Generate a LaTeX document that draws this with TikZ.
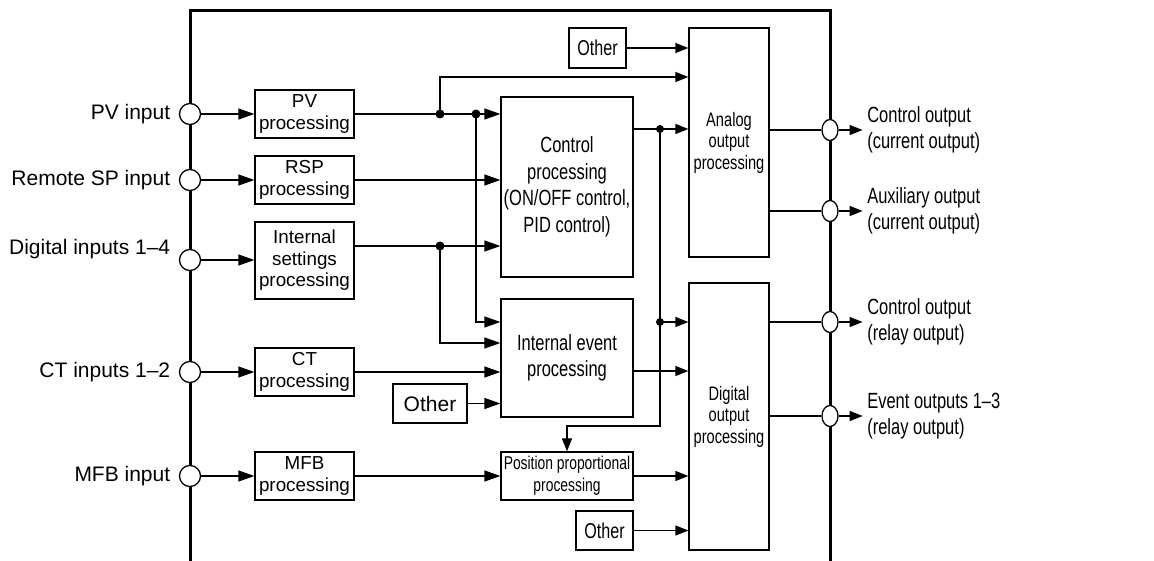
\documentclass[tikz,border=0pt]{standalone}
\usepackage{fontspec}
\setmainfont{Liberation Sans}
\newfontfamily\narrowfont{Liberation Sans}[FakeStretch=0.75,Ligatures=TeX]
\usetikzlibrary{arrows.meta,positioning,shapes.geometric}

\begin{document}
\begin{tikzpicture}[x=1pt,y=-1pt,line width=1.3pt,
   >={Triangle[length=16pt,width=11pt]},
   frame/.style={line width=3pt},
   port/.style={circle,draw,fill=white,minimum size=21pt,inner sep=0},
   oport/.style={ellipse,draw,fill=white,minimum width=16pt,minimum height=21pt,inner sep=0},
   blk/.style={draw,inner sep=0,align=center,font=\fontsize{18.8}{21.5}\selectfont},
   nblk/.style={blk,font=\narrowfont\fontsize{19.5}{21.5}\selectfont},
   bigblk/.style={blk,font=\narrowfont\fontsize{22}{26.5}\selectfont},
   lbl/.style={inner sep=0,font=\fontsize{21}{26}\selectfont},
   olbl/.style={inner sep=0,align=left,font=\narrowfont\fontsize{22}{26}\selectfont},
   dot/.style={circle,fill,inner sep=0,minimum size=9pt},
   sar/.style={-{Triangle[length=13pt,width=10pt]}}]
   \useasboundingbox (0,0) rectangle (1154,561);
   \draw[frame] (190,561) -- (190,11) -- (830,11) -- (830,561);

   % inputs
   \node[port] (inpv) at (190,114) {};
   \node[port] (inrsp) at (190,180) {};
   \node[port] (indi) at (190,260) {};
   \node[port] (inct) at (190,372) {};
   \node[port] (inmfb) at (190,476) {};
   \node[lbl,left=8pt of inpv] {PV input};
   \node[lbl,left=8pt of inrsp] {Remote SP input};
   \node[lbl,left=8pt of indi,yshift=11pt] {Digital inputs 1--4};
   \node[lbl,left=8pt of inct] {CT inputs 1--2};
   \node[lbl,left=8pt of inmfb] {MFB input};

   % input processing
   \node[blk,minimum width=99pt,minimum height=48pt] (pvp) at (304.5,114) {PV\\processing};
   \node[blk,minimum width=99pt,minimum height=48pt] (rspp) at (304.5,180) {RSP\\processing};
   \node[blk,minimum width=99pt,minimum height=77pt] (isp) at (304.5,260.5) {Internal\\settings\\processing};
   \node[blk,minimum width=99pt,minimum height=48pt] (ctp) at (304.5,372) {CT\\processing};
   \node[blk,minimum width=99pt,minimum height=48pt] (mfbp) at (304.5,476) {MFB\\processing};

   % middle column
   \node[bigblk,minimum width=132pt,minimum height=180pt] (ctrl) at (567,187) {Control\\processing\\(ON/OFF control,\\PID control)};
   \node[bigblk,minimum width=132pt,minimum height=118pt] (evt) at (567,358) {Internal event\\processing};
   \node[nblk,minimum width=132pt,minimum height=48pt,font=\narrowfont\fontsize{18.5}{22}\selectfont] (pos) at (567,476) {Position proportional\\processing};
   \node[blk,minimum width=74pt,minimum height=39pt,font=\fontsize{21}{24}\selectfont] (othB) at (430,403.5) {Other};
   \node[nblk,minimum width=57pt,minimum height=40pt,font=\narrowfont\fontsize{21.5}{24}\selectfont] (othA) at (597.5,48) {Other};
   \node[nblk,minimum width=57pt,minimum height=39pt,font=\narrowfont\fontsize{21.5}{24}\selectfont] (othC) at (604.5,530.5) {Other};

   % output processing
   \node[nblk,minimum width=80pt,minimum height=229pt] (ana) at (729,142.5) {Analog\\output\\processing};
   \node[nblk,minimum width=80pt,minimum height=267pt] (dig) at (729,416.5) {Digital\\output\\processing};

   % outputs
   \node[oport] (oc1) at (830,130) {};
   \node[oport] (oc2) at (830,211) {};
   \node[oport] (oc3) at (830,322) {};
   \node[oport] (oc4) at (830,416) {};
   \node[olbl,right=28pt of oc1] (o1lab) {Control output\\(current output)};
   \node[olbl,right=28pt of oc2] (o2lab) {Auxiliary output\\(current output)};
   \node[olbl,right=28pt of oc3] (o3lab) {Control output\\(relay output)};
   \node[olbl,right=28pt of oc4] (o4lab) {Event outputs 1--3\\(relay output)};

   % junctions
   \node[dot] (d1) at (440,114) {};
   \node[dot] (d2) at (476,114) {};
   \node[dot] (d3) at (440,246) {};
   \node[dot,minimum size=8pt] (d4) at (660,129) {};
   \node[dot,minimum size=8pt] (d5) at (660,322) {};
   \coordinate (t1) at (440,77);
   \coordinate (bend) at (660,426);

   % connectors
   \draw[->] (inpv) -- (pvp);
   \draw[->] (inrsp) -- (inrsp -| rspp.west);
   \draw[->] (indi) -- (indi -| isp.west);
   \draw[->] (inct) -- (ctp);
   \draw[->] (inmfb) -- (mfbp);
   \draw[->] (pvp.east) -- (pvp.east -| ctrl.west);
   \draw[sar] (d1.center) -- (t1) -- (t1 -| ana.west);
   \draw[->] (d2.center) |- (evt.west |- 0,322);
   \draw[->] (rspp.east) -- (rspp.east -| ctrl.west);
   \draw[->] (isp.east |- d3) -- (ctrl.west |- d3);
   \draw[->] (d3.center) |- (evt.west |- 0,343);
   \draw[->] (ctp.east) -- (ctp.east -| evt.west);
   \draw[->] (othB) -- (othB -| evt.west);
   \draw[->] (mfbp.east) -- (mfbp.east -| pos.west);
   \draw[sar] (othA) -- (othA -| ana.west);
   \draw[sar] (ctrl.east |- d4) -- (ana.west |- d4);
   \draw[sar] (d4.center) -- (bend) -| (pos.north);
   \draw[sar] (d5.center) -- (dig.west |- d5);
   \draw[sar] (evt.east |- 0,371) -- (dig.west |- 0,371);
   \draw[sar] (pos.east) -- (pos.east -| dig.west);
   \draw[sar] (othC) -- (othC -| dig.west);
   \draw (ana.east |- oc1) -- (oc1.west);
   \draw (ana.east |- oc2) -- (oc2.west);
   \draw (dig.east |- oc3) -- (oc3.west);
   \draw (dig.east |- oc4) -- (oc4.west);
   \draw[sar,shorten >=4pt] (oc1.east) -- (oc1.east -| o1lab.west);
   \draw[sar,shorten >=4pt] (oc2.east) -- (oc2.east -| o2lab.west);
   \draw[sar,shorten >=4pt] (oc3.east) -- (oc3.east -| o3lab.west);
   \draw[sar,shorten >=4pt] (oc4.east) -- (oc4.east -| o4lab.west);
\end{tikzpicture}
\end{document}
